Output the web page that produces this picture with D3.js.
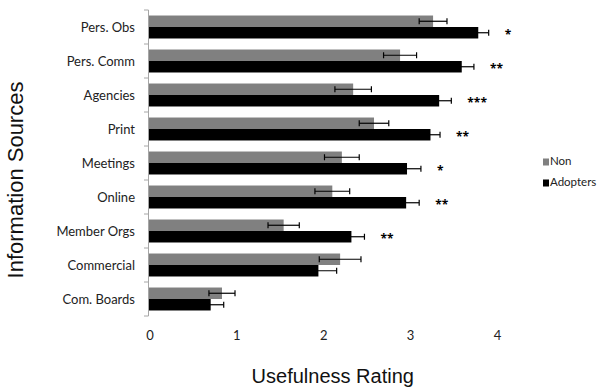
<!DOCTYPE html>
<html>
<head>
<meta charset="utf-8">
<script src="https://cdn.jsdelivr.net/npm/d3@7"></script>
<style>
  body { margin: 0; background: #fff; }
  svg { display: block; }
</style>
</head>
<body>
<svg id="chart" width="597" height="388"></svg>
<script>
// Information sources, top to bottom
const categories = ["Pers. Obs", "Pers. Comm", "Agencies", "Print", "Meetings",
                    "Online", "Member Orgs", "Commercial", "Com. Boards"];
// Mean usefulness ratings and error bar half-widths
const nonValues     = [3.27, 2.89, 2.35, 2.59, 2.22, 2.11, 1.55, 2.20, 0.84];
const nonErrors     = [0.16, 0.19, 0.21, 0.17, 0.20, 0.20, 0.18, 0.24, 0.15];
const adopterValues = [3.79, 3.60, 3.34, 3.24, 2.97, 2.96, 2.33, 1.95, 0.71];
const adopterErrors = [0.12, 0.14, 0.14, 0.11, 0.16, 0.15, 0.15, 0.21, 0.15];
// Significance markers for the group difference
const significance  = ["*", "**", "***", "**", "*", "**", "**", "", ""];
const xTicks = [0, 1, 2, 3, 4];
const seriesNames = ["Non", "Adopters"];
const seriesColors = ["#808080", "#000000"];

const svg = d3.select("#chart");
const margin = { left: 149, top: 10, right: 100, bottom: 72 };
const width = 597, height = 388;

const x = d3.scaleLinear().domain([0, 4]).range([margin.left, 496.5]);
const y = d3.scaleBand().domain(categories).range([margin.top, height - margin.bottom]);
const sub = d3.scaleBand().domain(seriesNames).range([0, y.bandwidth()])
  .paddingInner(0).paddingOuter(0.48);

const rows = categories.map((c, i) => ({
  cat: c, sig: significance[i],
  series: [
    { name: "Non", v: nonValues[i], e: nonErrors[i] },
    { name: "Adopters", v: adopterValues[i], e: adopterErrors[i] }
  ]
}));

const color = d3.scaleOrdinal().domain(seriesNames).range(seriesColors);

// Bars
const g = svg.append("g");
const rowG = g.selectAll("g.row").data(rows).join("g")
  .attr("class", "row")
  .attr("transform", d => `translate(0,${y(d.cat)})`);

rowG.selectAll("rect").data(d => d.series).join("rect")
  .attr("x", x(0))
  .attr("y", d => sub(d.name))
  .attr("width", d => x(d.v) - x(0))
  .attr("height", sub.bandwidth())
  .attr("fill", d => color(d.name));

// Error bars
const capH = 6;
const eb = rowG.selectAll("g.err").data(d => d.series).join("g")
  .attr("class", "err")
  .attr("stroke", "#000")
  .attr("stroke-width", 1.2);
eb.append("line")
  .attr("x1", d => x(d.v - d.e)).attr("x2", d => x(d.v + d.e))
  .attr("y1", d => sub(d.name) + sub.bandwidth() / 2)
  .attr("y2", d => sub(d.name) + sub.bandwidth() / 2);
eb.append("line")
  .attr("x1", d => x(d.v - d.e)).attr("x2", d => x(d.v - d.e))
  .attr("y1", d => sub(d.name) + sub.bandwidth() / 2 - capH / 2)
  .attr("y2", d => sub(d.name) + sub.bandwidth() / 2 + capH / 2);
eb.append("line")
  .attr("x1", d => x(d.v + d.e)).attr("x2", d => x(d.v + d.e))
  .attr("y1", d => sub(d.name) + sub.bandwidth() / 2 - capH / 2)
  .attr("y2", d => sub(d.name) + sub.bandwidth() / 2 + capH / 2);

// Significance stars next to the adopters bar
rowG.append("text")
  .attr("x", d => x(d.series[1].v + d.series[1].e) + 16)
  .attr("y", d => sub("Adopters") + sub.bandwidth() / 2 + 6)
  .attr("font-family", "Open Sans, sans-serif")
  .attr("font-size", 12)
  .attr("font-weight", "bold")
  .attr("fill", "#000")
  .text(d => d.sig);

// Y axis (category axis) with ticks between bands
const axisG = svg.append("g").attr("stroke", "#a6a6a6").attr("stroke-width", 1);
axisG.append("line")
  .attr("x1", x(0) - 0.5).attr("x2", x(0) - 0.5)
  .attr("y1", y.range()[0]).attr("y2", y.range()[1]);
const bounds = categories.map(c => y(c)).concat([y.range()[1]]);
axisG.selectAll("line.tick").data(bounds).join("line")
  .attr("class", "tick")
  .attr("x1", x(0) - 5).attr("x2", x(0) - 0.5)
  .attr("y1", d => d).attr("y2", d => d);

// Category labels
svg.append("g").selectAll("text").data(categories).join("text")
  .attr("x", 135)
  .attr("y", d => y(d) + y.bandwidth() / 2 + 2)
  .attr("text-anchor", "end")
  .attr("dominant-baseline", "middle")
  .attr("font-family", "Lato, sans-serif")
  .attr("font-size", 13)
  .attr("fill", "#222")
  .text(d => d);

// X tick labels
svg.append("g").selectAll("text").data(xTicks).join("text")
  .attr("x", d => x(d) + 1)
  .attr("y", 337)
  .attr("text-anchor", "middle")
  .attr("dominant-baseline", "middle")
  .attr("font-family", "Lato, sans-serif")
  .attr("font-size", 13)
  .attr("fill", "#222")
  .text(d => d);

// Axis titles
svg.append("text")
  .attr("x", (x(0) + x(4)) / 2 + 10)
  .attr("y", 378)
  .attr("text-anchor", "middle")
  .attr("dominant-baseline", "middle")
  .attr("font-family", "Liberation Sans, Arial, sans-serif")
  .attr("font-size", 20)
  .attr("fill", "#111")
  .text("Usefulness Rating");

svg.append("text")
  .attr("transform", "translate(17,180) rotate(-90)")
  .attr("text-anchor", "middle")
  .attr("dominant-baseline", "middle")
  .attr("font-family", "Liberation Sans, Arial, sans-serif")
  .attr("font-size", 22)
  .attr("fill", "#111")
  .text("Information Sources");

// Legend
const leg = svg.append("g").selectAll("g").data(seriesNames).join("g")
  .attr("transform", (d, i) => `translate(543,${162 + i * 21})`);
leg.append("rect")
  .attr("x", 0).attr("y", -3.5).attr("width", 6).attr("height", 7)
  .attr("fill", d => color(d));
leg.append("text")
  .attr("x", 7).attr("y", 0.5)
  .attr("dominant-baseline", "middle")
  .attr("font-family", "Lato, sans-serif")
  .attr("font-size", 11.5)
  .attr("fill", "#222")
  .text(d => d);
</script>
</body>
</html>
